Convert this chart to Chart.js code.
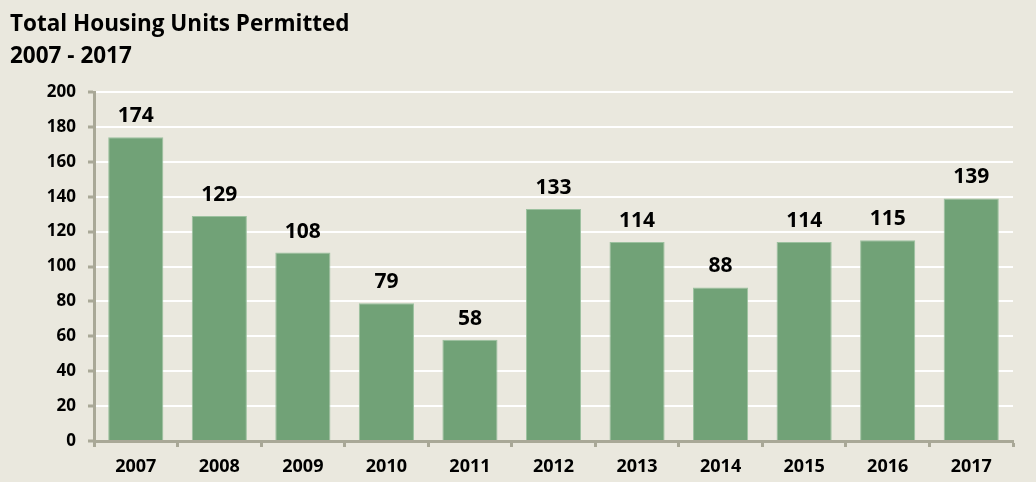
<!DOCTYPE html>
<html>
<head>
<meta charset="utf-8">
<script src="https://cdn.jsdelivr.net/npm/chart.js@4/dist/chart.umd.min.js"></script>
<style>
  html, body { margin: 0; padding: 0; background: #EAE8DE; }
  #wrap { width: 1036px; height: 482px; }
</style>
</head>
<body>
<div id="wrap"><canvas id="permitChart"></canvas></div>
<script>
let years = ["2007", "2008", "2009", "2010", "2011", "2012", "2013", "2014", "2015", "2016", "2017"]
let unitsPermitted = [174, 129, 108, 79, 58, 133, 114, 88, 114, 115, 139]
let titleLines = ["Total Housing Units Permitted", "2007 - 2017"]

let axisColor = "#A9A897"
let fontFamily = "'Open Sans', sans-serif"

// draw the value above each bar
let valueLabels = {
    id: 'valueLabels',
    afterDatasetsDraw: (chart) => {
        let ctx = chart.ctx
        let meta = chart.getDatasetMeta(0)
        ctx.save()
        ctx.font = "bold 21px " + fontFamily
        ctx.fillStyle = "#000"
        ctx.textAlign = "center"
        ctx.textBaseline = "alphabetic"
        meta.data.forEach((bar, i) => {
            ctx.fillText(unitsPermitted[i], bar.x, bar.y - 15)
        })
        ctx.restore()
    }
}

let context = document.getElementById('permitChart').getContext('2d');
new Chart(context, {
    type: 'bar',
    data: {
        labels: years,
        datasets: [{
            label: "Units",
            data: unitsPermitted,
            backgroundColor: "#71A277",
            borderColor: "#9CC19F",
            borderWidth: 1,
            categoryPercentage: 1,
            barPercentage: 0.66
        }]
    },
    options: {
        responsive: true,
        maintainAspectRatio: false,
        animation: false,
        layout: { padding: { left: 10, right: 23, top: 0, bottom: 0 } },
        plugins: {
            legend: { display: false },
            tooltip: { enabled: false },
            title: {
                display: true,
                text: titleLines,
                align: 'start',
                color: "#000",
                font: { family: fontFamily, size: 22.5, weight: 'bold', lineHeight: 32 / 22.5 },
                padding: { top: 9, bottom: 19 },
                fullSize: true
            }
        },
        scales: {
            x: {
                afterFit: (scale) => { scale.height = 41 },
                grid: {
                    drawOnChartArea: false,
                    offset: true,
                    tickLength: 6,
                    tickColor: axisColor,
                    tickWidth: 3
                },
                border: { color: axisColor, width: 3 },
                ticks: {
                    color: "#000",
                    font: { family: fontFamily, size: 18, weight: 'bold' },
                    padding: 9
                }
            },
            y: {
                min: 0,
                max: 200,
                afterFit: (scale) => { scale.width = 84 },
                grid: {
                    color: "#FFFFFF",
                    lineWidth: 2,
                    tickLength: 6,
                    tickColor: axisColor,
                    tickWidth: 3
                },
                border: { color: axisColor, width: 3 },
                ticks: {
                    stepSize: 20,
                    color: "#000",
                    font: { family: fontFamily, size: 17, weight: 'bold' },
                    padding: 12
                }
            }
        }
    },
    plugins: [valueLabels]
});
</script>
</body>
</html>
